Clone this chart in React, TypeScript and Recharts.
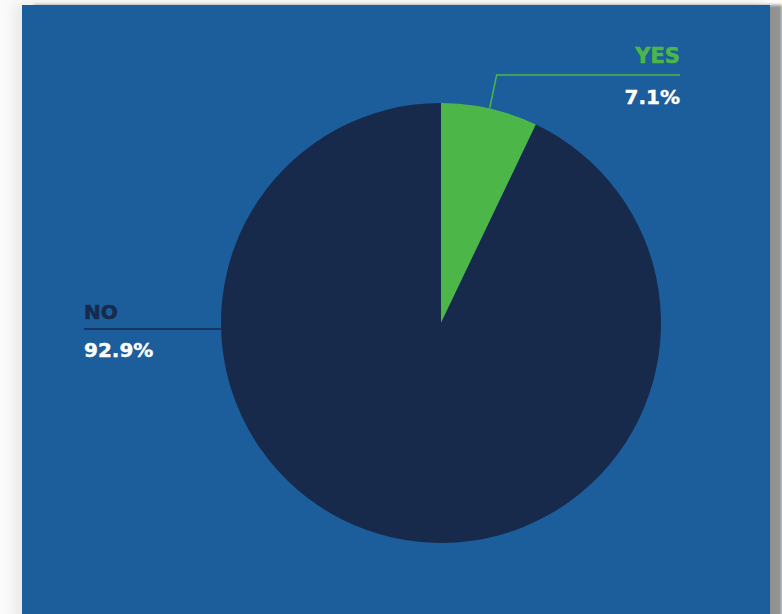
import React from "react";
import { PieChart, Pie, Cell } from "recharts";

const answers = ["YES", "NO"];
const shares = [7.1, 92.9];
const sliceColors = ["#4cb748", "#172a4b"];

const data = answers.map((name, i) => ({ name, value: shares[i] }));

const RAD = Math.PI / 180;

function renderLabel(props: any) {
  const { cx, cy, outerRadius, midAngle, index, payload } = props;
  const name = payload?.name ?? answers[index];
  const pct = `${(payload?.value ?? shares[index]).toFixed(1)}%`;
  const font = "'DejaVu Sans', sans-serif";
  if (name === "YES") {
    const sx = cx + outerRadius * Math.cos(-midAngle * RAD);
    const sy = cy + outerRadius * Math.sin(-midAngle * RAD);
    const ey = 75;
    const ex = sx + 7;
    return (
      <g>
        <polyline
          points={`${sx},${sy} ${ex},${ey} 680,${ey}`}
          fill="none"
          stroke={sliceColors[0]}
          strokeWidth={1.5}
        />
        <text x={680} y={63} textAnchor="end" fill={sliceColors[0]} fontFamily={font} fontWeight="bold" fontSize={21} stroke={sliceColors[0]} strokeWidth={0.6}>
          {name}
        </text>
        <text x={680} y={104} textAnchor="end" fill="#ffffff" fontFamily={font} fontWeight="bold" fontSize={20} stroke="#ffffff" strokeWidth={0.4}>
          {pct}
        </text>
      </g>
    );
  }
  const lx = cx - outerRadius;
  return (
    <g>
      <line x1={84} y1={329} x2={lx} y2={329} stroke={sliceColors[1]} strokeWidth={1.5} />
      <text x={84} y={319} fill={sliceColors[1]} fontFamily={font} fontWeight="bold" fontSize={20} stroke={sliceColors[1]} strokeWidth={0.6}>
        {name}
      </text>
      <text x={84} y={357} fill="#ffffff" fontFamily={font} fontWeight="bold" fontSize={20} stroke="#ffffff" strokeWidth={0.4}>
        {pct}
      </text>
    </g>
  );
}

export default function App() {
  return (
    <div style={{ position: "relative", width: 782, height: 614, background: "#fbfbfb", overflow: "hidden" }}>
      <style>{"body{margin:0}"}</style>
      <div
        style={{
          position: "absolute",
          left: 22,
          top: 5,
          width: 748,
          height: 620,
          background: "#1c5d9c",
          boxShadow: "12px 0 3px rgba(0,0,0,0.42), -8px -2px 14px rgba(0,0,0,0.08)",
        }}
      />
      <div style={{ position: "absolute", left: 0, top: 0 }}>
        <PieChart width={782} height={614} margin={{ top: 0, right: 0, bottom: 0, left: 0 }}>
          <Pie
            data={data}
            dataKey="value"
            nameKey="name"
            cx={441}
            cy={323}
            outerRadius={220}
            startAngle={90}
            endAngle={-270}
            stroke="none"
            label={renderLabel}
            labelLine={false}
            isAnimationActive={false}
          >
            {data.map((d, i) => (
              <Cell key={d.name} fill={sliceColors[i]} />
            ))}
          </Pie>
        </PieChart>
      </div>
    </div>
  );
}
